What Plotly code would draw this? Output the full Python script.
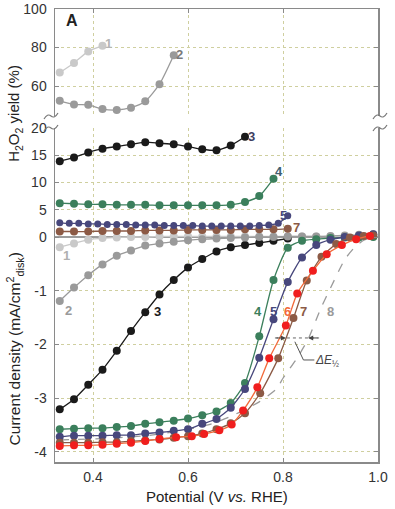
import plotly.graph_objects as go

# ---------------- data ----------------
# Top panel: H2O2 yield (%) - high range
top_v1 = [0.33, 0.36, 0.39, 0.42]
top_y1 = [67, 72, 78, 81]
top_v2 = [0.33, 0.36, 0.39, 0.42, 0.45, 0.48, 0.51, 0.54, 0.57]
top_y2 = [52.4, 50.5, 50.3, 48.1, 47.6, 48.8, 52.1, 61, 76]

# Middle panel: H2O2 yield (%) - low range
mid_v3 = [0.33, 0.36, 0.39, 0.42, 0.45, 0.48, 0.51, 0.54, 0.57, 0.60, 0.63, 0.66, 0.69, 0.72]
mid_y3 = [13.9, 14.6, 15.5, 16.2, 16.6, 17.0, 17.4, 17.2, 17.0, 16.6, 16.1, 15.9, 16.8, 18.4]
mid_v4 = [0.33, 0.36, 0.39, 0.42, 0.45, 0.48, 0.51, 0.54, 0.57, 0.60, 0.63, 0.66, 0.69, 0.72, 0.75, 0.78]
mid_y4 = [6.2, 6.1, 6.0, 6.0, 5.9, 5.9, 5.9, 5.8, 5.8, 5.8, 5.8, 5.8, 5.9, 6.4, 7.5, 10.7]
mid_v5 = [0.33, 0.35, 0.37, 0.39, 0.41, 0.43, 0.45, 0.47, 0.49, 0.51, 0.53, 0.55, 0.57,
          0.59, 0.61, 0.63, 0.65, 0.67, 0.69, 0.71, 0.73, 0.75, 0.77, 0.79, 0.81]
mid_y5 = [2.6, 2.5, 2.5, 2.4, 2.4, 2.3, 2.3, 2.3, 2.2, 2.2, 2.2, 2.1, 2.1,
          2.1, 2.1, 2.0, 2.0, 2.0, 2.0, 2.0, 2.0, 2.1, 2.2, 2.5, 3.9]
mid_v7 = [0.33, 0.36, 0.39, 0.42, 0.45, 0.48, 0.51, 0.54, 0.57, 0.60, 0.63, 0.66, 0.69, 0.72, 0.75, 0.78, 0.81]
mid_y7 = [1.0, 1.0, 1.0, 1.1, 1.1, 1.1, 1.2, 1.2, 1.2, 1.3, 1.3, 1.3, 1.3, 1.4, 1.4, 1.4, 1.5]

# Bottom panel: current density (mA/cm2 disk)
cd_v = [0.33, 0.36, 0.39, 0.42, 0.45, 0.48, 0.51, 0.54, 0.57, 0.60, 0.63, 0.66,
        0.69, 0.72, 0.75, 0.78, 0.81, 0.84, 0.87, 0.90, 0.93, 0.96, 0.99]
cd_1 = [-0.19, -0.12, -0.05, -0.02, -0.01, 0.0, 0.0, 0.01, 0.01, 0.01, 0.01, 0.01,
        0.01, 0.01, 0.01, 0.01, 0.01, 0.01, 0.01, 0.01, 0.01, 0.01, 0.01]
cd_2 = [-1.19, -0.94, -0.71, -0.51, -0.35, -0.25, -0.16, -0.12, -0.09, -0.06, -0.04, -0.03,
        -0.02, -0.01, 0.0, 0.0, 0.01, 0.01, 0.01, 0.02, 0.03, 0.04, 0.05]
cd_v3 = [0.33, 0.36, 0.39, 0.42, 0.45, 0.48, 0.51, 0.54, 0.57, 0.60, 0.63, 0.66, 0.69, 0.72, 0.75, 0.78, 0.81]
cd_3 = [-3.21, -3.02, -2.75, -2.47, -2.12, -1.75, -1.40, -1.07, -0.80, -0.57, -0.41, -0.27,
        -0.19, -0.15, -0.11, -0.07, -0.03]
cd_4 = [-3.58, -3.57, -3.56, -3.56, -3.54, -3.52, -3.48, -3.45, -3.42, -3.38, -3.32, -3.25,
        -3.09, -2.72, -1.85, -0.80, -0.20, -0.07, -0.04, -0.02, -0.01, -0.01, 0.0]
cd_5 = [-3.72, -3.70, -3.70, -3.70, -3.69, -3.69, -3.66, -3.64, -3.61, -3.58, -3.48, -3.39,
        -3.18, -2.83, -2.25, -1.53, -0.84, -0.38, -0.15, -0.05, 0.0, 0.03, 0.05]
cd_v6 = [0.33, 0.36, 0.39, 0.42, 0.45, 0.48, 0.51, 0.54, 0.575, 0.608, 0.634, 0.666,
         0.692, 0.716, 0.746, 0.771, 0.806, 0.83, 0.863, 0.892, 0.924, 0.954, 0.983]
cd_6 = [-3.89, -3.88, -3.88, -3.87, -3.85, -3.83, -3.80, -3.76, -3.73, -3.71, -3.67, -3.60,
        -3.49, -3.23, -2.80, -2.26, -1.65, -1.05, -0.63, -0.32, -0.15, -0.04, 0.02]
cd_v7 = [0.33, 0.36, 0.39, 0.42, 0.45, 0.48, 0.51, 0.54, 0.57, 0.60, 0.63, 0.66,
         0.69, 0.72, 0.752, 0.79, 0.822, 0.85, 0.881, 0.912, 0.941, 0.97, 0.99]
cd_7 = [-3.83, -3.83, -3.83, -3.82, -3.82, -3.80, -3.79, -3.77, -3.74, -3.71, -3.66, -3.58,
        -3.47, -3.28, -2.91, -2.26, -1.51, -0.81, -0.37, -0.13, -0.01, 0.02, 0.03]
cd_v8 = [0.33, 0.40, 0.45, 0.50, 0.54, 0.60, 0.65, 0.70, 0.75, 0.787, 0.80, 0.83,
         0.853, 0.88, 0.90, 0.93, 0.95, 0.97, 0.99]
cd_8 = [-3.78, -3.76, -3.74, -3.71, -3.67, -3.58, -3.48, -3.30, -3.07, -2.82, -2.63, -2.25,
        -1.90, -1.32, -0.95, -0.42, -0.20, -0.06, 0.0]

# ---------------- style ----------------
C1 = "#c9c9c9"
C2 = "#9a9a9a"
C3 = "#1a1a1a"
C4 = "#3b7f5c"
C5 = "#47477c"
C6M = "#f01e1e"
C6L = "#f26a3a"
C7 = "#8c5a45"
C8 = "#9a9a9a"
GRID = "#cfcf9f"
AX = "#8a8a8a"
FONT = "Liberation Sans, Arial, sans-serif"

fig = go.Figure()


def line(x, y, color, xa="x", ya="y", size=8, lcolor=None, dash=None, mode="lines+markers", lw=1.3):
    fig.add_trace(go.Scatter(
        x=x, y=y, mode=mode, xaxis=xa, yaxis=ya,
        line=dict(color=lcolor or color, width=lw, dash=dash, shape="spline", smoothing=0.6),
        marker=dict(color=color, size=size, line=dict(width=0)),
        showlegend=False, hoverinfo="skip"))


# top panel
line(top_v1, top_y1, C1, "x2", "y3")
line(top_v2, top_y2, C2, "x2", "y3")

# bottom panel (current density)
line(cd_v8, cd_8, C8, dash="dash", mode="lines", lw=1.3)
line(cd_v, cd_1, C1)
line(cd_v3, cd_3, C3)
line(cd_v, cd_2, C2)
line(cd_v, cd_4, C4)
line(cd_v, cd_5, C5)
line(cd_v7, cd_7, C7)
line(cd_v6, cd_6, C6M, lcolor=C6L)

# middle panel (H2O2 yield low range)
line(mid_v3, mid_y3, C3, "x", "y2")
line(mid_v4, mid_y4, C4, "x", "y2")
line(mid_v7, mid_y7, C7, "x", "y2")
line(mid_v5, mid_y5, C5, "x", "y2", size=7)

tickfont = dict(family=FONT, size=14, color="#333")
common_y = dict(showline=True, linecolor=AX, linewidth=1.5, ticks="inside", ticklen=4,
                tickcolor=AX, tickfont=tickfont, showgrid=True, gridcolor=GRID,
                griddash="dot", gridwidth=1, ticklabelstandoff=4, automargin=False)

fig.update_layout(
    width=395, height=509,
    margin=dict(l=55, r=17, t=9, b=47, autoexpand=False),
    paper_bgcolor="white", plot_bgcolor="white",
    showlegend=False,
    xaxis=dict(domain=[0, 1], range=[0.32, 1.0], anchor="y",
               tickvals=[0.4, 0.6, 0.8, 1.0], ticktext=["0.4", "0.6", "0.8", "1.0"],
               showline=True, linecolor=AX, linewidth=1.5, ticks="inside", ticklen=4,
               tickcolor=AX, tickfont=tickfont, showgrid=True, gridcolor=GRID,
               griddash="dot", zeroline=False, ticklabelstandoff=2, automargin=False),
    xaxis2=dict(domain=[0, 1], range=[0.32, 1.0], anchor="y3", side="top",
                tickvals=[0.4, 0.6, 0.8, 1.0], showticklabels=False,
                showline=True, linecolor=AX, linewidth=1.5, ticks="inside", ticklen=4,
                tickcolor=AX, showgrid=True, gridcolor=GRID, griddash="dot", zeroline=False,
                automargin=False),
    yaxis=dict(domain=[0, 0.7373], range=[-4.19, 2.03], anchor="x",
               tickvals=[0, -1, -2, -3, -4], ticktext=["0", "-1", "-2", "-3", "-4"],
               mirror="ticks", zeroline=True, zerolinecolor="#9c9c9c", zerolinewidth=2,
               **common_y),
    yaxis2=dict(overlaying="y", range=[-41.3, 20], anchor="x", side="left",
                tickvals=[5, 10, 15, 20], ticktext=["5", "10", "15", "20"],
                mirror="ticks", zeroline=False, **common_y),
    yaxis3=dict(domain=[0.7638, 1], range=[44.5, 100], anchor="x2",
                tickvals=[60, 80, 100], ticktext=["60", "80", "100"],
                mirror="ticks", zeroline=False, **common_y),
)

# ---------------- axis titles ----------------
ann = []
ann.append(dict(text="H<sub>2</sub>O<sub>2</sub> yield (%)", textangle=-90,
                xref="paper", yref="paper", x=-0.125, y=0.77, showarrow=False,
                font=dict(family=FONT, size=15, color="#222"), xanchor="center", yanchor="middle"))
ann.append(dict(text="Current density (mA/cm<sup>2</sup><sub>disk</sub>)", textangle=-90,
                xref="paper", yref="paper", x=-0.125, y=0.25, showarrow=False,
                font=dict(family=FONT, size=15.5, color="#222"), xanchor="center", yanchor="middle"))
ann.append(dict(text="Potential (V <i>vs.</i> RHE)", xref="paper", yref="paper",
                x=0.5, y=-0.076, showarrow=False,
                font=dict(family=FONT, size=15, color="#222"), xanchor="center", yanchor="middle"))
ann.append(dict(text="<b>A</b>", xref="paper", yref="paper", x=0.053, y=0.975,
                showarrow=False, font=dict(family=FONT, size=16, color="#222"),
                xanchor="center", yanchor="middle"))


def lab(t, x, y, color, xr="x", yr="y"):
    ann.append(dict(text="<b>%s</b>" % t, x=x, y=y, xref=xr, yref=yr, showarrow=False,
                    font=dict(family=FONT, size=13, color=color),
                    xanchor="center", yanchor="middle"))


# top panel labels
lab("1", 0.432, 82, "#b5b5b5", "x2", "y3")
lab("2", 0.583, 76.4, "#7a7a7a", "x2", "y3")
# middle panel labels
lab("3", 0.733, 18.5, "#3e3e62", "x", "y2")
lab("4", 0.792, 12.0, "#3f5f70", "x", "y2")
lab("5", 0.800, 3.85, C5, "x", "y2")
lab("7", 0.829, 1.8, C7, "x", "y2")
# bottom panel labels
lab("1", 0.345, -0.35, "#b0b0b0")
lab("2", 0.349, -1.36, C2)
lab("3", 0.535, -1.38, C3)
lab("4", 0.747, -1.38, C4)
lab("5", 0.779, -1.38, C5)
lab("6", 0.810, -1.38, C6L)
lab("7", 0.844, -1.38, C7)
lab("8", 0.899, -1.38, C8)

# delta E 1/2 annotation
ann.append(dict(text="<i>ΔE</i><sub>½</sub>", x=0.893, y=-2.31, xref="x", yref="y",
                showarrow=False, font=dict(family=FONT, size=12, color="#444"),
                xanchor="center", yanchor="middle"))
ann.append(dict(x=0.806, y=-1.88, ax=0.783, ay=-1.88, xref="x", yref="y", axref="x", ayref="y",
                showarrow=True, arrowhead=2, arrowsize=1, arrowwidth=1, arrowcolor="#444", text=""))
ann.append(dict(x=0.853, y=-1.88, ax=0.876, ay=-1.88, xref="x", yref="y", axref="x", ayref="y",
                showarrow=True, arrowhead=2, arrowsize=1, arrowwidth=1, arrowcolor="#444", text=""))
fig.update_layout(annotations=ann)

shapes = []
shapes.append(dict(type="line", xref="x", yref="y", x0=0.783, x1=0.876, y0=-1.88, y1=-1.88,
                   line=dict(color="#666", width=1, dash="dot")))
shapes.append(dict(type="path", xref="x", yref="y",
                   path="M 0.825,-1.95 L 0.843,-2.29 L 0.866,-2.29",
                   line=dict(color="#555", width=1)))


# axis break squiggles (paper coords)
def squig(px, py):
    # px, py in pixel coordinates of the figure
    def X(p):
        return (p - 55) / 323.0

    def Y(p):
        return (462 - p) / 453.0
    x0 = X(px - 7)
    x1 = X(px - 3.5)
    x2 = X(px)
    x3 = X(px + 3.5)
    x4 = X(px + 7)
    yu = Y(py - 3)
    yd = Y(py + 3)
    path = "M %f,%f Q %f,%f %f,%f Q %f,%f %f,%f" % (x0, yd, x1, yu, x2, Y(py), x3, yd, x4, yu)
    return dict(type="path", xref="paper", yref="paper", path=path,
                line=dict(color="#777", width=1.2))


for py in (116, 128):
    shapes.append(squig(51, py))
    shapes.append(squig(380, py))

fig.update_layout(shapes=shapes)

fig.write_html("out.html", config={"displayModeBar": False, "staticPlot": True},
               post_script="document.body.style.margin='0';document.body.style.padding='0';document.body.style.overflow='hidden';")
